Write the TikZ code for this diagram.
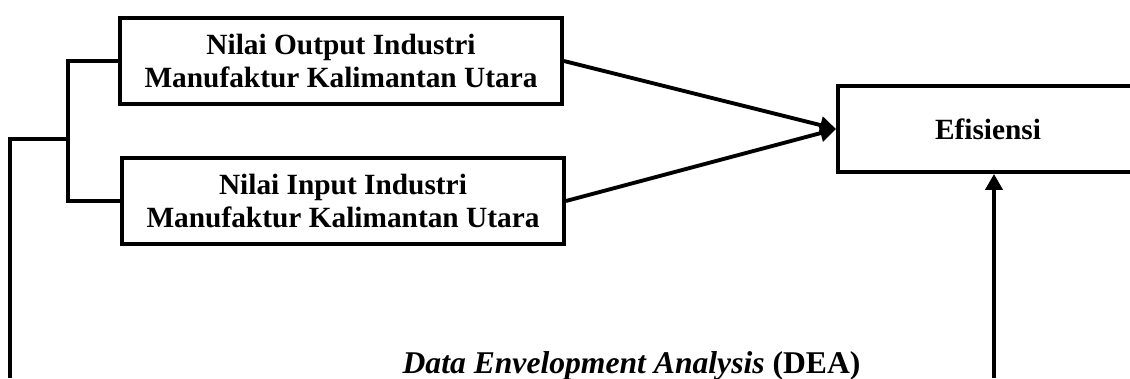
\documentclass[tikz,border=0pt]{standalone}
\usepackage{fontspec}
\setmainfont{Liberation Serif}
\usetikzlibrary{arrows.meta,calc,positioning}

\begin{document}
\begin{tikzpicture}[
  varbox/.style={draw,line width=2.2pt,align=center,font=\bfseries\fontsize{16.7pt}{18.5pt}\selectfont,inner sep=0pt},
  link/.style={line width=2.2pt},
  linkarrow/.style={line width=2.2pt,-{Triangle[length=0.32cm,width=0.34cm]}}]
\useasboundingbox (0,0) rectangle (22.6,7.56);
\node[varbox,minimum width=8.84cm,minimum height=1.72cm] (output) at (6.82,6.34) {Nilai Output Industri\\Manufaktur Kalimantan Utara};
\node[varbox,minimum width=8.84cm,minimum height=1.72cm] (input) at (6.86,3.54) {Nilai Input Industri\\Manufaktur Kalimantan Utara};
\node[varbox,minimum width=6.0cm,minimum height=1.72cm] (efisiensi) at (19.76,4.98) {Efisiensi};
\node[anchor=base,font=\bfseries\fontsize{18pt}{20pt}\selectfont] (dea) at (12.63,0.1) {\textit{Data Envelopment Analysis} (DEA)};
\coordinate (root) at (0.2,0);
\coordinate (fork) at (1.36,4.78);
\coordinate (deaend) at (19.88,0);
\draw[link] (root) |- (fork);
\draw[link] (output.west) -| (fork) |- (input.west);
\draw[linkarrow] (output.east) -- (efisiensi.west);
\draw[linkarrow] (input.east) -- (efisiensi.west);
\draw[linkarrow] (deaend) -- (deaend |- efisiensi.south);
\end{tikzpicture}
\end{document}
